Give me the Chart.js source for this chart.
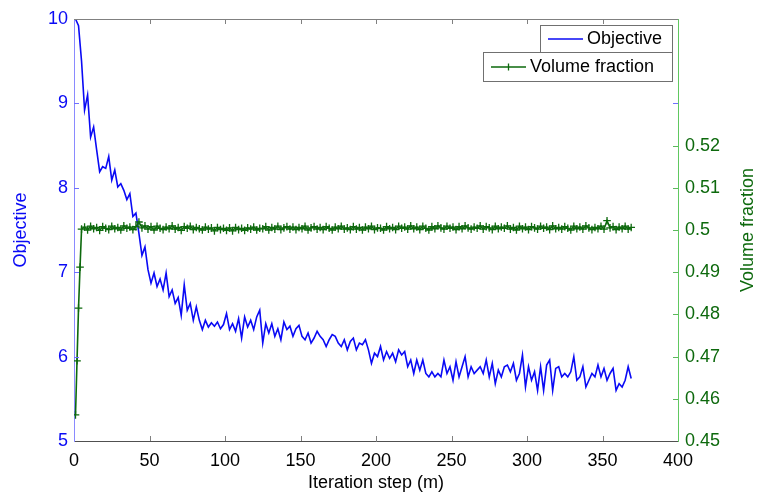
<!DOCTYPE html>
<html>
<head>
<meta charset="utf-8">
<script src="https://cdn.jsdelivr.net/npm/chart.js@4"></script>
<style>
  body { margin: 0; background: #fff; }
  canvas { display: block; }
</style>
</head>
<body>
<canvas id="plot" width="757" height="494"></canvas>
<script>
// objective value, read every 2nd iteration (steps 1, 3, 5, ... 369)
const objective = [
  10.00, 9.92, 9.50, 8.92, 9.10, 8.60, 8.72, 8.45, 8.19, 8.25,
  8.23, 8.37, 8.09, 8.21, 8.01, 8.05, 7.97, 7.86, 7.93, 7.66,
  7.70, 7.46, 7.20, 7.30, 7.03, 6.87, 6.99, 6.83, 6.92, 6.79,
  6.99, 6.71, 6.79, 6.63, 6.70, 6.49, 6.85, 6.55, 6.63, 6.43,
  6.59, 6.43, 6.32, 6.43, 6.35, 6.40, 6.36, 6.41, 6.33, 6.38,
  6.51, 6.32, 6.39, 6.30, 6.45, 6.22, 6.47, 6.35, 6.43, 6.32,
  6.47, 6.55, 6.16, 6.39, 6.28, 6.39, 6.24, 6.33, 6.20, 6.41,
  6.32, 6.36, 6.24, 6.33, 6.37, 6.24, 6.20, 6.28, 6.16, 6.22,
  6.30, 6.24, 6.20, 6.12, 6.20, 6.26, 6.24, 6.16, 6.12, 6.20,
  6.08, 6.18, 6.22, 6.08, 6.16, 6.14, 6.20, 6.08, 5.92, 6.04,
  6.00, 6.12, 5.96, 6.06, 5.98, 6.04, 5.94, 6.08, 6.02, 6.06,
  5.88, 5.96, 5.80, 5.96, 5.84, 5.96, 5.80, 5.76, 5.82, 5.76,
  5.80, 5.76, 5.96, 5.80, 5.88, 5.72, 5.94, 5.76, 5.88, 6.00,
  5.76, 5.88, 5.80, 5.84, 5.88, 5.80, 5.96, 5.76, 5.92, 5.68,
  5.84, 5.76, 5.88, 5.90, 5.82, 5.92, 5.72, 5.80, 6.02, 5.64,
  5.88, 5.72, 5.82, 5.60, 5.88, 5.60, 5.90, 5.96, 5.60, 5.86,
  5.88, 5.76, 5.80, 5.76, 5.82, 6.00, 5.72, 5.76, 5.88, 5.64,
  5.72, 5.80, 5.76, 5.90, 5.76, 5.86, 5.72, 5.80, 5.86, 5.60,
  5.68, 5.64, 5.72, 5.88, 5.74
];

// volume fraction: first four iterations one by one, then every 2nd step from 5
const vfRamp = [0.4562, 0.4690, 0.4815, 0.4912];
const volumeFraction = [
  0.5002, 0.5007, 0.5000, 0.5009, 0.5003, 0.5006, 0.4999, 0.5008, 0.5004, 0.5001,
  0.5009, 0.5003, 0.5006, 0.5000, 0.5010, 0.5004, 0.5007, 0.5001, 0.5008, 0.5019,
  0.5005, 0.5010, 0.5002, 0.5008, 0.5000, 0.5009, 0.5004, 0.5001, 0.5007, 0.5003,
  0.5010, 0.5002, 0.5006, 0.4999, 0.5008, 0.5004, 0.5009, 0.5001, 0.5006, 0.5003,
  0.5000, 0.5007, 0.5002, 0.5005, 0.4998, 0.5006, 0.5001, 0.5004, 0.4999, 0.5005,
  0.4998, 0.5006, 0.5001, 0.5004, 0.4999, 0.5005, 0.5002, 0.5007, 0.5000, 0.5004,
  0.5003, 0.5008, 0.5000, 0.5006, 0.5002, 0.5009, 0.5001, 0.5005, 0.5008, 0.5002,
  0.5007, 0.5001, 0.5006, 0.5003, 0.5009, 0.5000, 0.5005, 0.5008, 0.5002, 0.5006,
  0.5001, 0.5008, 0.5004, 0.5000, 0.5007, 0.5003, 0.5009, 0.5002, 0.5005, 0.5001,
  0.5008, 0.5002, 0.5006, 0.5000, 0.5007, 0.5003, 0.5009, 0.5001, 0.5005, 0.5004,
  0.5000, 0.5008, 0.5003, 0.5006, 0.5001, 0.5009, 0.5004, 0.5007, 0.5002, 0.5010,
  0.5003, 0.5007, 0.5001, 0.5009, 0.5004, 0.5000, 0.5008, 0.5003, 0.5010, 0.5005,
  0.5002, 0.5009, 0.5004, 0.5007, 0.5001, 0.5008, 0.5003, 0.5010, 0.5005, 0.5002,
  0.5007, 0.5004, 0.5010, 0.5002, 0.5008, 0.5005, 0.5001, 0.5009, 0.5003, 0.5007,
  0.5004, 0.5010, 0.5002, 0.5006, 0.5000, 0.5009, 0.5003, 0.5007, 0.5001, 0.5008,
  0.5005, 0.5002, 0.5009, 0.5004, 0.5007, 0.5001, 0.5010, 0.5003, 0.5006, 0.5002,
  0.5008, 0.5004, 0.5000, 0.5009, 0.5003, 0.5007, 0.5002, 0.5010, 0.5005, 0.5001,
  0.5006, 0.5003, 0.5009, 0.5002, 0.5022, 0.5005, 0.5008, 0.5001, 0.5007, 0.5003,
  0.5009, 0.5002, 0.5006
];

const BLUE = "#0a0af5";
const GREEN = "#0d690d";
const FONT = "'Liberation Sans', Arial, sans-serif";

const objPoints = objective.map((v, i) => ({ x: 1 + 2 * i, y: v }));
const vfPoints = vfRamp.map((v, i) => ({ x: 1 + i, y: v }))
  .concat(volumeFraction.map((v, i) => ({ x: 5 + 2 * i, y: v })));

// MATLAB style: short ticks pointing into the box, top border, mirrored ticks
const boxTicks = {
  id: "boxTicks",
  afterDatasetsDraw(chart) {
    const { ctx, chartArea: a, scales } = chart;
    const len = 5;
    ctx.save();
    ctx.lineWidth = 1;
    // top border
    ctx.strokeStyle = "#808080";
    ctx.beginPath();
    ctx.moveTo(a.left, a.top + 0.5);
    ctx.lineTo(a.right, a.top + 0.5);
    ctx.stroke();
    // x ticks, bottom and top
    ctx.beginPath();
    scales.x.ticks.forEach(t => {
      const px = Math.round(scales.x.getPixelForValue(t.value)) + 0.5;
      if (px <= a.left + 1 || px >= a.right - 1) return;
      ctx.moveTo(px, a.bottom); ctx.lineTo(px, a.bottom - len);
      ctx.moveTo(px, a.top); ctx.lineTo(px, a.top + len);
    });
    ctx.stroke();
    // left ticks, mirrored on the right side too
    ctx.strokeStyle = "#7070ff";
    ctx.beginPath();
    scales.y.ticks.forEach(t => {
      const py = Math.round(scales.y.getPixelForValue(t.value)) + 0.5;
      if (py <= a.top + 1 || py >= a.bottom - 1) return;
      ctx.moveTo(a.left, py); ctx.lineTo(a.left + len, py);
      ctx.moveTo(a.right, py); ctx.lineTo(a.right - len, py);
    });
    ctx.stroke();
    // right ticks
    ctx.strokeStyle = "#5cb85c";
    ctx.beginPath();
    scales.y1.ticks.forEach(t => {
      const py = Math.round(scales.y1.getPixelForValue(t.value)) + 0.5;
      if (py >= a.bottom - 1) return;
      ctx.moveTo(a.right, py); ctx.lineTo(a.right - len, py);
    });
    ctx.stroke();
    ctx.restore();
  },
  afterDraw(chart) {
    const { ctx, chartArea: a } = chart;
    ctx.save();
    // right axis title reads bottom to top
    ctx.font = "18px " + FONT;
    ctx.fillStyle = GREEN;
    ctx.textAlign = "center";
    ctx.textBaseline = "middle";
    ctx.translate(748, (a.top + a.bottom) / 2);
    ctx.rotate(-Math.PI / 2);
    ctx.fillText("Volume fraction", 0, 0);
    ctx.restore();

    // two stacked legend boxes, as plotyy gives
    const ds = chart.data.datasets;
    const boxes = [
      { d: ds[0], x: 540, y: 25, w: 132, h: 27, marker: false },
      { d: ds[1], x: 483, y: 52, w: 189, h: 29, marker: true }
    ];
    ctx.save();
    ctx.font = "18px " + FONT;
    ctx.textBaseline = "middle";
    boxes.forEach(b => {
      ctx.fillStyle = "#fff";
      ctx.fillRect(b.x, b.y, b.w, b.h);
      ctx.strokeStyle = "#707070";
      ctx.lineWidth = 1;
      ctx.strokeRect(b.x + 0.5, b.y + 0.5, b.w, b.h);
      const cy = Math.round(b.y + b.h / 2);
      const lx = b.x + 8;
      ctx.strokeStyle = b.d.borderColor;
      ctx.lineWidth = 1.3;
      ctx.beginPath();
      ctx.moveTo(lx, cy); ctx.lineTo(lx + 35, cy);
      if (b.marker) {
        ctx.moveTo(lx + 17.5, cy - 3.5); ctx.lineTo(lx + 17.5, cy + 3.5);
      }
      ctx.stroke();
      ctx.fillStyle = "#000";
      ctx.fillText(b.d.label, lx + 39, b.y + b.h / 2 + 1);
    });
    ctx.restore();
  }
};

new Chart(document.getElementById("plot"), {
  type: "line",
  data: {
    datasets: [
      {
        label: "Objective",
        data: objPoints,
        yAxisID: "y",
        borderColor: BLUE,
        borderWidth: 1.6,
        pointRadius: 0,
        order: 1
      },
      {
        label: "Volume fraction",
        data: vfPoints,
        yAxisID: "y1",
        borderColor: GREEN,
        borderWidth: 1.6,
        pointStyle: "cross",
        pointRadius: 3.8,
        pointBorderWidth: 1.3,
        pointBorderColor: GREEN,
        order: 0
      }
    ]
  },
  plugins: [boxTicks],
  options: {
    responsive: false,
    animation: false,
    layout: { padding: { top: 19, left: 0, right: 0, bottom: 0 } },
    plugins: { legend: { display: false }, tooltip: { enabled: false } },
    scales: {
      x: {
        type: "linear",
        min: 0,
        max: 400,
        ticks: { stepSize: 50, color: "#000", font: { family: FONT, size: 18 }, padding: 9, maxRotation: 0 },
        grid: { drawOnChartArea: false, drawTicks: false },
        border: { color: "#505050", width: 1 },
        title: { display: true, text: "Iteration step (m)", color: "#000", font: { family: FONT, size: 18 }, padding: { top: 1, bottom: 0 } },
        afterFit(s) { s.height = 53; }
      },
      y: {
        position: "left",
        min: 5,
        max: 10,
        ticks: { stepSize: 1, color: BLUE, font: { family: FONT, size: 18 }, padding: 6 },
        grid: { drawOnChartArea: false, drawTicks: false },
        border: { color: "#8a8aff", width: 1 },
        title: { display: true, text: "Objective", color: BLUE, font: { family: FONT, size: 18 }, padding: { top: 10, bottom: 0 } },
        afterFit(s) { s.width = 74; }
      },
      y1: {
        position: "right",
        min: 0.45,
        max: 0.55,
        ticks: {
          stepSize: 0.01,
          color: GREEN,
          font: { family: FONT, size: 18 },
          padding: 7,
          callback: v => String(+v.toFixed(2))
        },
        grid: { drawOnChartArea: false, drawTicks: false },
        border: { color: "#60c860", width: 1 },
        afterBuildTicks(s) { s.ticks = s.ticks.filter(t => t.value <= 0.5201); },
        afterFit(s) { s.width = 79; }
      }
    }
  }
});
</script>
</body>
</html>
